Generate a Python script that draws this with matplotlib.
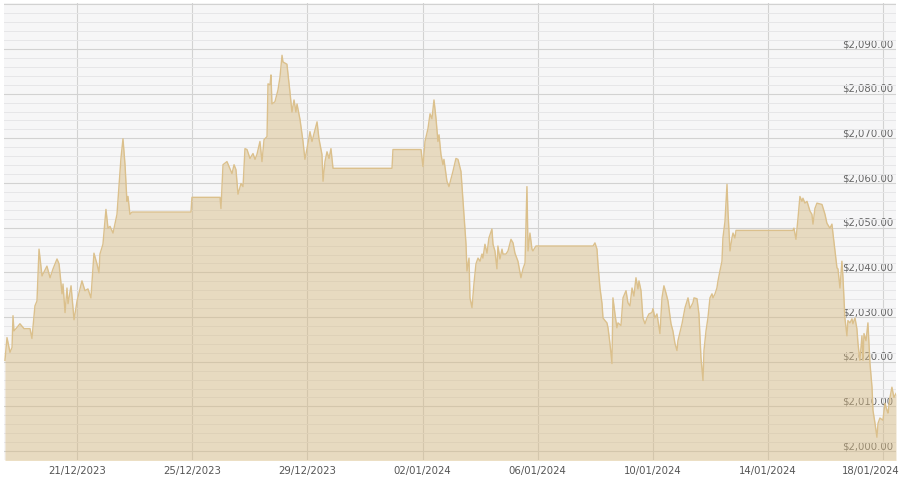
import numpy as np
import pandas as pd
import matplotlib
matplotlib.use("Agg")
import matplotlib.pyplot as plt
import matplotlib.dates as mdates
from matplotlib.ticker import FuncFormatter, MultipleLocator

# gold price, hours counted from the first sample
start = pd.Timestamp("2023-12-18 11:00")
end_hours = 743.7

hours = [
    0.8, 2.5, 5.0, 6.7, 7.5, 8.3, 10.0, 13.3, 16.7, 21.7, 23.3, 25.8, 27.5, 29.2, 31.7,
    35.8, 38.4, 40.9, 44.2, 45.9, 48.4, 49.2, 50.9, 52.5, 53.4, 55.9, 58.4, 60.9, 65.0,
    67.5, 70.0, 72.5, 75.0, 77.5, 79.2, 80.0, 82.5, 85.0, 86.7, 88.4, 90.9, 94.2, 97.5,
    99.2, 100.9, 102.5, 103.4, 105.0, 106.7, 155.9, 156.7, 180.1, 180.9, 182.6, 185.9,
    187.6, 190.1, 191.8, 193.4, 195.1, 197.6, 199.3, 200.9, 202.6, 205.1, 207.6, 209.3,
    210.9, 213.4, 215.1, 216.8, 219.3, 220.1, 221.8, 222.6, 223.4, 225.9, 228.4, 230.1,
    231.8, 232.6, 235.9, 236.8, 238.4, 240.1, 241.8, 243.4, 244.3, 246.8, 249.3, 250.9,
    253.4, 255.1, 256.8, 261.0, 262.6, 265.1, 266.0, 267.6, 269.3, 271.0, 272.6, 274.3,
    323.5, 324.3, 347.7, 349.3, 351.0, 353.5, 355.2, 356.8, 358.5, 360.2, 361.8, 362.7,
    364.3, 366.0, 366.8, 369.3, 371.0, 374.3, 376.8, 378.5, 381.0, 382.7, 385.2, 386.0,
    387.7, 388.5, 390.2, 391.8, 393.5, 395.2, 396.9, 398.5, 399.3, 401.0, 402.7, 404.3,
    406.8, 407.7, 409.3, 411.0, 411.8, 413.5, 415.2, 416.0, 418.5, 420.2, 422.7, 424.4,
    426.0, 428.5, 431.0, 432.7, 434.4, 436.0, 436.9, 438.5, 440.2, 441.0, 443.5, 491.1,
    492.7, 494.4, 495.2, 496.9, 498.6, 499.4, 501.1, 502.7, 503.6, 505.2, 506.9, 507.7,
    509.4, 511.0, 511.9, 514.4, 516.1, 518.6, 520.2, 521.9, 523.6, 525.2, 526.9, 528.6,
    529.4, 531.1, 532.7, 534.4, 536.1, 537.7, 540.2, 541.1, 542.7, 544.4, 546.9, 548.6,
    550.2, 551.9, 553.6, 556.1, 557.7, 559.4, 561.1, 561.9, 565.3, 567.8, 570.3, 571.9,
    574.4, 575.3, 577.8, 579.4, 581.1, 582.8, 583.6, 585.3, 586.9, 588.6, 590.3, 591.1,
    592.8, 594.4, 595.3, 596.9, 598.6, 599.4, 601.1, 602.8, 603.6, 605.3, 606.9, 607.8,
    609.4, 610.3, 657.8, 658.6, 660.3, 662.0, 663.6, 665.3, 666.1, 667.8, 669.5, 672.0,
    673.6, 674.5, 676.1, 677.8, 682.0, 684.5, 686.1, 688.6, 690.3, 691.1, 692.8, 694.5,
    695.3, 697.0, 698.6, 699.5, 701.1, 702.8, 703.6, 705.3, 707.0, 707.8, 709.5, 711.1,
    712.0, 713.6, 715.3, 716.2, 717.0, 718.7, 720.3, 722.0, 723.7, 724.5, 726.2, 727.8,
    728.7, 730.3, 732.8, 734.5, 736.2, 737.0, 738.7, 740.3, 742.0, 743.7,
]

prices = [
    2020.3, 2025.4, 2022.1, 2023.2, 2030.3, 2026.9, 2027.4, 2028.5, 2027.4, 2027.4, 2025.2,
    2032.5, 2033.6, 2045.2, 2039.2, 2041.4, 2038.8, 2040.8, 2043.0, 2041.9, 2035.2, 2037.4,
    2031.0, 2036.5, 2033.0, 2037.0, 2029.4, 2033.6, 2038.1, 2035.9, 2036.3, 2034.3, 2044.3,
    2041.9, 2039.9, 2044.1, 2046.3, 2054.1, 2049.9, 2050.3, 2048.8, 2053.0, 2065.5, 2069.9,
    2064.1, 2055.9, 2057.0, 2053.0, 2053.5, 2053.5, 2056.8, 2056.8, 2054.3, 2064.1, 2064.8,
    2063.7, 2062.1, 2064.1, 2063.0, 2057.5, 2059.9, 2059.2, 2067.7, 2067.5, 2065.5, 2066.6,
    2065.3, 2066.4, 2069.3, 2064.8, 2069.7, 2070.4, 2082.2, 2082.0, 2084.2, 2077.7, 2078.2,
    2080.8, 2083.7, 2088.6, 2087.1, 2086.6, 2084.4, 2080.4, 2075.9, 2078.6, 2075.9, 2077.7,
    2074.2, 2069.3, 2065.3, 2068.8, 2071.5, 2069.3, 2073.7, 2069.9, 2066.4, 2060.4, 2064.8,
    2067.0, 2065.5, 2067.7, 2063.3, 2063.3, 2067.5, 2067.5, 2063.7, 2069.3, 2072.2, 2075.5,
    2074.4, 2078.6, 2074.4, 2069.3, 2070.8, 2066.4, 2064.1, 2065.3, 2060.4, 2059.2, 2062.6,
    2065.5, 2065.3, 2062.6, 2055.9, 2046.3, 2040.3, 2043.2, 2034.3, 2032.1, 2037.4, 2041.9,
    2043.2, 2042.5, 2044.1, 2043.2, 2046.3, 2044.3, 2047.7, 2049.7, 2046.3, 2044.8, 2040.8,
    2045.9, 2043.0, 2045.2, 2044.1, 2044.1, 2044.8, 2047.4, 2046.6, 2044.3, 2042.5, 2038.8,
    2040.8, 2042.1, 2059.2, 2044.8, 2048.8, 2045.2, 2044.8, 2045.9, 2045.9, 2046.6, 2045.2,
    2041.9, 2036.5, 2033.0, 2029.8, 2029.2, 2028.7, 2027.6, 2024.1, 2019.6, 2034.3, 2030.7,
    2027.6, 2028.7, 2028.1, 2034.3, 2035.9, 2033.2, 2032.5, 2036.5, 2034.7, 2038.8, 2036.3,
    2038.1, 2035.9, 2029.8, 2028.5, 2029.8, 2030.7, 2031.0, 2031.9, 2029.8, 2030.7, 2026.3,
    2034.3, 2037.0, 2035.4, 2033.6, 2028.5, 2026.9, 2024.1, 2022.5, 2024.7, 2028.5, 2032.1,
    2034.3, 2031.9, 2033.2, 2034.3, 2034.1, 2030.7, 2020.9, 2015.8, 2022.5, 2026.9, 2029.8,
    2034.3, 2035.2, 2034.3, 2035.2, 2036.5, 2038.1, 2040.3, 2042.5, 2047.7, 2051.4, 2059.7,
    2053.7, 2044.8, 2047.7, 2048.8, 2047.7, 2049.4, 2049.4, 2049.9, 2047.4, 2052.1, 2057.0,
    2055.9, 2056.6, 2055.5, 2055.9, 2053.7, 2053.0, 2050.8, 2054.3, 2055.5, 2055.2, 2053.0,
    2051.0, 2049.9, 2050.8, 2048.8, 2044.8, 2041.0, 2040.8, 2036.5, 2042.5, 2038.8, 2029.8,
    2025.8, 2029.2, 2028.7, 2029.6, 2028.5, 2029.8, 2027.4, 2024.1, 2020.3, 2025.8, 2020.3,
    2026.3, 2024.7, 2028.7, 2019.6, 2014.3, 2009.1, 2006.2, 2003.1, 2006.2, 2007.4, 2006.9,
    2010.7, 2009.1, 2008.5, 2012.0, 2014.3, 2012.0, 2012.9,
]

tick_dates = pd.date_range("2023-12-21", "2024-01-18", freq="4D")
price_ticks = np.arange(2000, 2101, 10)

times = start + pd.to_timedelta(hours, unit="h")

fig = plt.figure(figsize=(9, 4.8), dpi=100)
ax = fig.add_axes([4 / 900, 20 / 480, 892 / 900, 457 / 480])
ax.set_facecolor("#f6f6f7")

ax.fill_between(times, prices, 1990, color="#d6b87e", alpha=0.45, linewidth=0, zorder=2)
ax.plot(times, prices, color="#dbc08c", linewidth=1.0, zorder=3)

ax.set_xlim(start, start + pd.Timedelta(hours=end_hours))
ax.set_ylim(1998, 2100.3)

# last date label would run off the edge, so draw it separately, shifted left
ax.set_xticks(tick_dates)
last_tick = tick_dates[-1]
last_num = mdates.date2num(last_tick)
ax.xaxis.set_major_formatter(
    FuncFormatter(lambda v, _: "" if abs(v - last_num) < 0.01
                  else mdates.num2date(v).strftime("%d/%m/%Y")))
ax.annotate(last_tick.strftime("%d/%m/%Y"), xy=(last_num, 0),
            xycoords=ax.get_xaxis_transform(), xytext=(-9, -4),
            textcoords="offset points", ha="center", va="top",
            fontsize=7.3, color="#555555", annotation_clip=False)

ax.set_yticks(price_ticks)
ax.yaxis.set_minor_locator(MultipleLocator(2))
ax.yaxis.set_major_formatter(FuncFormatter(lambda v, _: "" if v >= 2100 else f"${v:,.2f}"))

ax.grid(which="major", color="#d2d2d2", linewidth=0.8, zorder=1)
ax.grid(which="minor", axis="y", color="#e6e6e8", linewidth=0.7, zorder=1)
ax.set_axisbelow(True)

for s in ax.spines.values():
    s.set_visible(False)

ax.yaxis.tick_right()
ax.tick_params(axis="y", which="both", length=0, pad=-2, labelsize=7.3, labelcolor="#666666")
ax.tick_params(axis="x", length=0, pad=4, labelsize=7.3, labelcolor="#555555")
for lab in ax.get_yticklabels():
    lab.set_ha("right")
    lab.set_va("bottom")
    lab.set_zorder(5)

fig.savefig("out.png", dpi=100)
